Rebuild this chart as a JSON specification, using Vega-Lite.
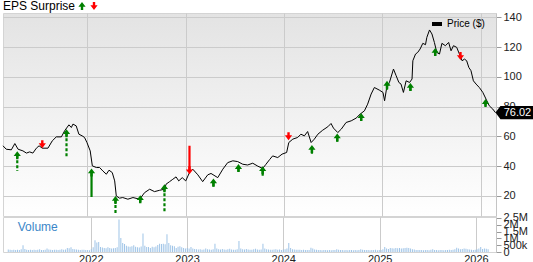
{
  "$schema": "https://vega.github.io/schema/vega-lite/v6.json",
  "padding": 0,
  "spacing": 1,
  "bounds": "flush",
  "background": "white",
  "config": {
    "font": "Liberation Sans",
    "axis": {"labelFont": "Liberation Sans", "labelFontSize": 11, "labelColor": "#222", "gridColor": "#cbcbcb", "gridWidth": 1, "domainColor": "#c4c4c4", "tickColor": "#999", "title": null, "labelOverlap": false}
  },
  "resolve": {
    "scale": {"x": "independent", "y": "independent", "color": "independent", "fill": "independent", "shape": "independent", "stroke": "independent", "strokeDash": "independent"},
    "legend": {"color": "independent", "fill": "independent", "shape": "independent"}
  },
  "datasets": {
    "price": [
      {"date": "2021-02-21", "price": 53.7}, {"date": "2021-03-05", "price": 51.4}, {"date": "2021-03-24", "price": 51.0}, {"date": "2021-04-06", "price": 55.2}, {"date": "2021-04-18", "price": 51.4}, {"date": "2021-05-06", "price": 50.3}, {"date": "2021-05-19", "price": 48.8}, {"date": "2021-05-31", "price": 49.6}, {"date": "2021-06-12", "price": 48.8}, {"date": "2021-06-25", "price": 52.1}, {"date": "2021-07-05", "price": 53.7}, {"date": "2021-07-17", "price": 52.1}, {"date": "2021-08-07", "price": 52.1}, {"date": "2021-08-23", "price": 57.0}, {"date": "2021-09-07", "price": 59.7}, {"date": "2021-09-26", "price": 59.7}, {"date": "2021-10-08", "price": 63.8}, {"date": "2021-10-24", "price": 67.8}, {"date": "2021-11-02", "price": 66.0}, {"date": "2021-11-08", "price": 68.3}, {"date": "2021-11-20", "price": 67.1}, {"date": "2021-11-30", "price": 61.5}, {"date": "2021-12-12", "price": 60.4}, {"date": "2021-12-21", "price": 59.3}, {"date": "2021-12-30", "price": 55.9},
      {"date": "2022-01-11", "price": 50.3}, {"date": "2022-01-19", "price": 40.2}, {"date": "2022-02-03", "price": 39.1}, {"date": "2022-02-15", "price": 39.1}, {"date": "2022-02-27", "price": 36.8}, {"date": "2022-03-12", "price": 34.6}, {"date": "2022-03-22", "price": 37.3}, {"date": "2022-04-03", "price": 35.7}, {"date": "2022-04-12", "price": 30.1}, {"date": "2022-04-18", "price": 20.0}, {"date": "2022-04-30", "price": 18.5}, {"date": "2022-05-12", "price": 18.9}, {"date": "2022-05-31", "price": 17.8}, {"date": "2022-06-19", "price": 18.9}, {"date": "2022-07-14", "price": 17.8}, {"date": "2022-08-01", "price": 22.2}, {"date": "2022-08-20", "price": 24.5}, {"date": "2022-09-07", "price": 22.9}, {"date": "2022-09-26", "price": 23.8}, {"date": "2022-10-14", "price": 24.5}, {"date": "2022-10-20", "price": 27.9}, {"date": "2022-11-02", "price": 29.6}, {"date": "2022-11-14", "price": 31.2}, {"date": "2022-11-26", "price": 32.8}, {"date": "2022-12-06", "price": 30.1}, {"date": "2022-12-19", "price": 32.3},
      {"date": "2023-01-01", "price": 30.1}, {"date": "2023-01-15", "price": 35.7}, {"date": "2023-01-27", "price": 38.0}, {"date": "2023-02-15", "price": 34.2}, {"date": "2023-03-05", "price": 29.6}, {"date": "2023-03-24", "price": 34.2}, {"date": "2023-04-05", "price": 35.1}, {"date": "2023-04-30", "price": 32.3}, {"date": "2023-05-19", "price": 38.0}, {"date": "2023-06-06", "price": 42.4}, {"date": "2023-06-25", "price": 43.6}, {"date": "2023-07-13", "price": 43.1}, {"date": "2023-08-01", "price": 41.3}, {"date": "2023-08-19", "price": 40.8}, {"date": "2023-09-07", "price": 42.0}, {"date": "2023-09-26", "price": 40.0}, {"date": "2023-10-14", "price": 38.5}, {"date": "2023-10-25", "price": 41.0}, {"date": "2023-11-09", "price": 44.5}, {"date": "2023-11-20", "price": 46.9}, {"date": "2023-12-09", "price": 45.8}, {"date": "2023-12-25", "price": 48.1},
      {"date": "2024-01-11", "price": 49.2}, {"date": "2024-01-19", "price": 55.9}, {"date": "2024-02-03", "price": 58.2}, {"date": "2024-02-21", "price": 59.3}, {"date": "2024-03-04", "price": 61.5}, {"date": "2024-03-17", "price": 60.4}, {"date": "2024-03-29", "price": 63.3}, {"date": "2024-04-11", "price": 55.9}, {"date": "2024-04-23", "price": 58.2}, {"date": "2024-05-06", "price": 61.5}, {"date": "2024-05-24", "price": 64.2}, {"date": "2024-06-12", "price": 66.5}, {"date": "2024-06-24", "price": 68.7}, {"date": "2024-07-03", "price": 65.6}, {"date": "2024-07-19", "price": 62.6}, {"date": "2024-08-01", "price": 64.9}, {"date": "2024-08-19", "price": 69.4}, {"date": "2024-09-07", "price": 70.5}, {"date": "2024-09-25", "price": 72.3}, {"date": "2024-10-10", "price": 75.0}, {"date": "2024-10-26", "price": 77.2}, {"date": "2024-11-07", "price": 81.7}, {"date": "2024-11-20", "price": 88.5}, {"date": "2024-12-02", "price": 92.9}, {"date": "2024-12-20", "price": 91.2},
      {"date": "2025-01-03", "price": 89.6}, {"date": "2025-01-09", "price": 84.0}, {"date": "2025-01-17", "price": 92.9}, {"date": "2025-01-27", "price": 96.3}, {"date": "2025-02-11", "price": 105.3}, {"date": "2025-02-21", "price": 100.8}, {"date": "2025-03-03", "price": 96.3}, {"date": "2025-03-11", "price": 95.2}, {"date": "2025-03-20", "price": 89.6}, {"date": "2025-03-30", "price": 97.4}, {"date": "2025-04-12", "price": 96.3}, {"date": "2025-04-21", "price": 98.6}, {"date": "2025-04-24", "price": 110.9}, {"date": "2025-05-04", "price": 115.4}, {"date": "2025-05-12", "price": 116.5}, {"date": "2025-05-21", "price": 118.8}, {"date": "2025-05-31", "price": 122.6}, {"date": "2025-06-10", "price": 121.7}, {"date": "2025-06-15", "price": 126.6}, {"date": "2025-06-25", "price": 131.6}, {"date": "2025-07-04", "price": 128.9}, {"date": "2025-07-13", "price": 123.2}, {"date": "2025-07-22", "price": 116.5}, {"date": "2025-08-01", "price": 115.4}, {"date": "2025-08-10", "price": 122.6}, {"date": "2025-08-23", "price": 121.0}, {"date": "2025-09-04", "price": 123.2}, {"date": "2025-09-13", "price": 117.6}, {"date": "2025-09-22", "price": 121.0}, {"date": "2025-10-04", "price": 119.9}, {"date": "2025-10-14", "price": 115.4}, {"date": "2025-10-24", "price": 110.9}, {"date": "2025-11-02", "price": 112.0}, {"date": "2025-11-10", "price": 110.9}, {"date": "2025-11-18", "price": 106.4}, {"date": "2025-11-26", "price": 104.2}, {"date": "2025-12-05", "price": 97.4}, {"date": "2025-12-15", "price": 95.2}, {"date": "2025-12-27", "price": 92.9},
      {"date": "2026-01-09", "price": 89.6}, {"date": "2026-01-21", "price": 85.1}, {"date": "2026-02-02", "price": 80.6}, {"date": "2026-02-15", "price": 78.4}, {"date": "2026-02-25", "price": 76.02}
    ],
    "arrows": [
      {"date": "2021-04-15", "dir": "up", "style": "dashed", "head": 47.3, "tail": 36.8},
      {"date": "2021-07-17", "dir": "down", "style": "solid", "head": 54.8, "tail": 54.8},
      {"date": "2021-10-15", "dir": "up", "style": "dashed", "head": 62.2, "tail": 46.3},
      {"date": "2022-01-16", "dir": "up", "style": "solid", "head": 35.7, "tail": 19.3},
      {"date": "2022-04-15", "dir": "up", "style": "dashed", "head": 17.3, "tail": 7.9},
      {"date": "2022-07-16", "dir": "up", "style": "dashed", "head": 17.8, "tail": 14.6},
      {"date": "2022-10-14", "dir": "up", "style": "dashed", "head": 25.2, "tail": 8.6},
      {"date": "2023-01-15", "dir": "down", "style": "solid", "head": 37.3, "tail": 53.7},
      {"date": "2023-04-14", "dir": "up", "style": "solid", "head": 29.0, "tail": 26.1},
      {"date": "2023-07-16", "dir": "up", "style": "solid", "head": 38.7, "tail": 36.2},
      {"date": "2023-10-14", "dir": "up", "style": "solid", "head": 37.3, "tail": 33.5},
      {"date": "2024-01-18", "dir": "down", "style": "solid", "head": 60.2, "tail": 60.2},
      {"date": "2024-04-14", "dir": "up", "style": "solid", "head": 51.6, "tail": 48.3},
      {"date": "2024-07-17", "dir": "up", "style": "solid", "head": 59.3, "tail": 56.4},
      {"date": "2024-10-14", "dir": "up", "style": "solid", "head": 73.0, "tail": 70.5},
      {"date": "2025-01-18", "dir": "up", "style": "solid", "head": 94.7, "tail": 91.4},
      {"date": "2025-04-15", "dir": "up", "style": "solid", "head": 93.2, "tail": 90.7},
      {"date": "2025-07-16", "dir": "up", "style": "solid", "head": 116.8, "tail": 114.3},
      {"date": "2025-10-18", "dir": "down", "style": "solid", "head": 114.1, "tail": 114.1},
      {"date": "2026-01-19", "dir": "up", "style": "solid", "head": 82.4, "tail": 80.6}
    ],
    "last": [{"date": "2026-02-25", "price": 76.02, "label": "76.02"}],
    "vol": [
      {"date": "2021-02-22", "v": 180000}, {"date": "2021-03-01", "v": 160000}, {"date": "2021-03-08", "v": 150000}, {"date": "2021-03-15", "v": 170000}, {"date": "2021-03-22", "v": 150000}, {"date": "2021-03-29", "v": 160000}, {"date": "2021-04-05", "v": 150000}, {"date": "2021-04-12", "v": 200000}, {"date": "2021-04-19", "v": 490000}, {"date": "2021-04-26", "v": 220000}, {"date": "2021-05-03", "v": 160000}, {"date": "2021-05-10", "v": 150000}, {"date": "2021-05-17", "v": 170000}, {"date": "2021-05-24", "v": 150000}, {"date": "2021-05-31", "v": 160000}, {"date": "2021-06-07", "v": 140000}, {"date": "2021-06-14", "v": 170000}, {"date": "2021-06-21", "v": 200000}, {"date": "2021-06-28", "v": 150000}, {"date": "2021-07-05", "v": 150000}, {"date": "2021-07-12", "v": 170000}, {"date": "2021-07-19", "v": 250000}, {"date": "2021-07-26", "v": 180000}, {"date": "2021-08-02", "v": 160000}, {"date": "2021-08-09", "v": 150000}, {"date": "2021-08-16", "v": 170000}, {"date": "2021-08-23", "v": 160000}, {"date": "2021-08-30", "v": 150000}, {"date": "2021-09-06", "v": 170000}, {"date": "2021-09-13", "v": 200000}, {"date": "2021-09-20", "v": 160000}, {"date": "2021-09-27", "v": 180000}, {"date": "2021-10-04", "v": 300000}, {"date": "2021-10-11", "v": 280000}, {"date": "2021-10-18", "v": 340000}, {"date": "2021-10-25", "v": 220000}, {"date": "2021-11-01", "v": 200000}, {"date": "2021-11-08", "v": 180000}, {"date": "2021-11-15", "v": 170000}, {"date": "2021-11-22", "v": 150000}, {"date": "2021-11-29", "v": 160000}, {"date": "2021-12-06", "v": 170000}, {"date": "2021-12-13", "v": 150000}, {"date": "2021-12-20", "v": 140000}, {"date": "2021-12-27", "v": 130000},
      {"date": "2022-01-03", "v": 200000}, {"date": "2022-01-10", "v": 350000}, {"date": "2022-01-17", "v": 860000}, {"date": "2022-01-24", "v": 690000}, {"date": "2022-01-31", "v": 740000}, {"date": "2022-02-07", "v": 370000}, {"date": "2022-02-14", "v": 330000}, {"date": "2022-02-21", "v": 300000}, {"date": "2022-02-28", "v": 280000}, {"date": "2022-03-07", "v": 350000}, {"date": "2022-03-14", "v": 300000}, {"date": "2022-03-21", "v": 260000}, {"date": "2022-03-28", "v": 280000}, {"date": "2022-04-04", "v": 300000}, {"date": "2022-04-11", "v": 350000}, {"date": "2022-04-18", "v": 2380000}, {"date": "2022-04-25", "v": 1030000}, {"date": "2022-05-02", "v": 660000}, {"date": "2022-05-09", "v": 590000}, {"date": "2022-05-16", "v": 450000}, {"date": "2022-05-23", "v": 400000}, {"date": "2022-05-30", "v": 380000}, {"date": "2022-06-06", "v": 420000}, {"date": "2022-06-13", "v": 490000}, {"date": "2022-06-20", "v": 380000}, {"date": "2022-06-27", "v": 350000}, {"date": "2022-07-04", "v": 330000}, {"date": "2022-07-11", "v": 400000}, {"date": "2022-07-18", "v": 1350000}, {"date": "2022-07-25", "v": 450000}, {"date": "2022-08-01", "v": 370000}, {"date": "2022-08-08", "v": 360000}, {"date": "2022-08-15", "v": 300000}, {"date": "2022-08-22", "v": 380000}, {"date": "2022-08-29", "v": 340000}, {"date": "2022-09-05", "v": 400000}, {"date": "2022-09-12", "v": 520000}, {"date": "2022-09-19", "v": 610000}, {"date": "2022-09-26", "v": 580000}, {"date": "2022-10-03", "v": 610000}, {"date": "2022-10-10", "v": 560000}, {"date": "2022-10-17", "v": 1300000}, {"date": "2022-10-24", "v": 660000}, {"date": "2022-10-31", "v": 500000}, {"date": "2022-11-07", "v": 450000}, {"date": "2022-11-14", "v": 420000}, {"date": "2022-11-21", "v": 300000}, {"date": "2022-11-28", "v": 380000}, {"date": "2022-12-05", "v": 420000}, {"date": "2022-12-12", "v": 350000}, {"date": "2022-12-19", "v": 300000}, {"date": "2022-12-26", "v": 250000},
      {"date": "2023-01-02", "v": 300000}, {"date": "2023-01-09", "v": 250000}, {"date": "2023-01-16", "v": 370000}, {"date": "2023-01-23", "v": 260000}, {"date": "2023-01-30", "v": 220000}, {"date": "2023-02-06", "v": 200000}, {"date": "2023-02-13", "v": 180000}, {"date": "2023-02-20", "v": 200000}, {"date": "2023-02-27", "v": 170000}, {"date": "2023-03-06", "v": 190000}, {"date": "2023-03-13", "v": 250000}, {"date": "2023-03-20", "v": 200000}, {"date": "2023-03-27", "v": 180000}, {"date": "2023-04-03", "v": 170000}, {"date": "2023-04-10", "v": 200000}, {"date": "2023-04-17", "v": 610000}, {"date": "2023-04-24", "v": 260000}, {"date": "2023-05-01", "v": 200000}, {"date": "2023-05-08", "v": 180000}, {"date": "2023-05-15", "v": 220000}, {"date": "2023-05-22", "v": 180000}, {"date": "2023-05-29", "v": 160000}, {"date": "2023-06-05", "v": 200000}, {"date": "2023-06-12", "v": 240000}, {"date": "2023-06-19", "v": 190000}, {"date": "2023-06-26", "v": 170000}, {"date": "2023-07-03", "v": 160000}, {"date": "2023-07-10", "v": 200000}, {"date": "2023-07-17", "v": 800000}, {"date": "2023-07-24", "v": 260000}, {"date": "2023-07-31", "v": 200000}, {"date": "2023-08-07", "v": 180000}, {"date": "2023-08-14", "v": 220000}, {"date": "2023-08-21", "v": 190000}, {"date": "2023-08-28", "v": 170000}, {"date": "2023-09-04", "v": 160000}, {"date": "2023-09-11", "v": 200000}, {"date": "2023-09-18", "v": 240000}, {"date": "2023-09-25", "v": 180000}, {"date": "2023-10-02", "v": 170000}, {"date": "2023-10-09", "v": 190000}, {"date": "2023-10-16", "v": 610000}, {"date": "2023-10-23", "v": 260000}, {"date": "2023-10-30", "v": 200000}, {"date": "2023-11-06", "v": 180000}, {"date": "2023-11-13", "v": 170000}, {"date": "2023-11-20", "v": 160000}, {"date": "2023-11-27", "v": 180000}, {"date": "2023-12-04", "v": 200000}, {"date": "2023-12-11", "v": 170000}, {"date": "2023-12-18", "v": 180000}, {"date": "2023-12-25", "v": 150000},
      {"date": "2024-01-01", "v": 180000}, {"date": "2024-01-08", "v": 200000}, {"date": "2024-01-15", "v": 250000}, {"date": "2024-01-22", "v": 660000}, {"date": "2024-01-29", "v": 300000}, {"date": "2024-02-05", "v": 200000}, {"date": "2024-02-12", "v": 180000}, {"date": "2024-02-19", "v": 170000}, {"date": "2024-02-26", "v": 160000}, {"date": "2024-03-04", "v": 170000}, {"date": "2024-03-11", "v": 150000}, {"date": "2024-03-18", "v": 160000}, {"date": "2024-03-25", "v": 150000}, {"date": "2024-04-01", "v": 140000}, {"date": "2024-04-08", "v": 150000}, {"date": "2024-04-15", "v": 320000}, {"date": "2024-04-22", "v": 250000}, {"date": "2024-04-29", "v": 180000}, {"date": "2024-05-06", "v": 160000}, {"date": "2024-05-13", "v": 150000}, {"date": "2024-05-20", "v": 140000}, {"date": "2024-05-27", "v": 130000}, {"date": "2024-06-03", "v": 140000}, {"date": "2024-06-10", "v": 150000}, {"date": "2024-06-17", "v": 130000}, {"date": "2024-06-24", "v": 140000}, {"date": "2024-07-01", "v": 130000}, {"date": "2024-07-08", "v": 150000}, {"date": "2024-07-15", "v": 140000}, {"date": "2024-07-22", "v": 200000}, {"date": "2024-07-29", "v": 160000}, {"date": "2024-08-05", "v": 150000}, {"date": "2024-08-12", "v": 140000}, {"date": "2024-08-19", "v": 130000}, {"date": "2024-08-26", "v": 140000}, {"date": "2024-09-02", "v": 130000}, {"date": "2024-09-09", "v": 140000}, {"date": "2024-09-16", "v": 150000}, {"date": "2024-09-23", "v": 130000}, {"date": "2024-09-30", "v": 140000}, {"date": "2024-10-07", "v": 130000}, {"date": "2024-10-14", "v": 150000}, {"date": "2024-10-21", "v": 200000}, {"date": "2024-10-28", "v": 160000}, {"date": "2024-11-04", "v": 150000}, {"date": "2024-11-11", "v": 140000}, {"date": "2024-11-18", "v": 150000}, {"date": "2024-11-25", "v": 130000}, {"date": "2024-12-02", "v": 140000}, {"date": "2024-12-09", "v": 150000}, {"date": "2024-12-16", "v": 160000}, {"date": "2024-12-23", "v": 130000}, {"date": "2024-12-30", "v": 140000},
      {"date": "2025-01-06", "v": 150000}, {"date": "2025-01-13", "v": 200000}, {"date": "2025-01-20", "v": 370000}, {"date": "2025-01-27", "v": 250000}, {"date": "2025-02-03", "v": 220000}, {"date": "2025-02-10", "v": 300000}, {"date": "2025-02-17", "v": 280000}, {"date": "2025-02-24", "v": 250000}, {"date": "2025-03-03", "v": 300000}, {"date": "2025-03-10", "v": 280000}, {"date": "2025-03-17", "v": 300000}, {"date": "2025-03-24", "v": 250000}, {"date": "2025-03-31", "v": 280000}, {"date": "2025-04-07", "v": 300000}, {"date": "2025-04-14", "v": 320000}, {"date": "2025-04-21", "v": 300000}, {"date": "2025-04-28", "v": 250000}, {"date": "2025-05-05", "v": 200000}, {"date": "2025-05-12", "v": 180000}, {"date": "2025-05-19", "v": 150000}, {"date": "2025-05-26", "v": 140000}, {"date": "2025-06-02", "v": 150000}, {"date": "2025-06-09", "v": 140000}, {"date": "2025-06-16", "v": 130000}, {"date": "2025-06-23", "v": 150000}, {"date": "2025-06-30", "v": 140000}, {"date": "2025-07-07", "v": 130000}, {"date": "2025-07-14", "v": 160000}, {"date": "2025-07-21", "v": 200000}, {"date": "2025-07-28", "v": 150000}, {"date": "2025-08-04", "v": 140000}, {"date": "2025-08-11", "v": 130000}, {"date": "2025-08-18", "v": 150000}, {"date": "2025-08-25", "v": 140000}, {"date": "2025-09-01", "v": 130000}, {"date": "2025-09-08", "v": 150000}, {"date": "2025-09-15", "v": 140000}, {"date": "2025-09-22", "v": 160000}, {"date": "2025-09-29", "v": 150000}, {"date": "2025-10-06", "v": 170000}, {"date": "2025-10-13", "v": 200000}, {"date": "2025-10-20", "v": 320000}, {"date": "2025-10-27", "v": 260000}, {"date": "2025-11-03", "v": 200000}, {"date": "2025-11-10", "v": 220000}, {"date": "2025-11-17", "v": 250000}, {"date": "2025-11-24", "v": 230000}, {"date": "2025-12-01", "v": 200000}, {"date": "2025-12-08", "v": 180000}, {"date": "2025-12-15", "v": 170000}, {"date": "2025-12-22", "v": 150000}, {"date": "2025-12-29", "v": 160000},
      {"date": "2026-01-05", "v": 200000}, {"date": "2026-01-12", "v": 250000}, {"date": "2026-01-19", "v": 370000}, {"date": "2026-01-26", "v": 220000}, {"date": "2026-02-02", "v": 250000}, {"date": "2026-02-09", "v": 230000}, {"date": "2026-02-16", "v": 200000}
    ]
  },
  "vconcat": [
    {
      "width": 493,
      "height": 203,
      "view": {"stroke": "#d4d4d4", "fill": {"gradient": "linear", "x1": 0, "y1": 0, "x2": 0, "y2": 1, "stops": [{"offset": 0, "color": "#e3e3e3"}, {"offset": 1, "color": "#ffffff"}]}},
      "layer": [
        {
          "data": {"name": "price"},
          "mark": {"type": "line", "strokeWidth": 1},
          "encoding": {
            "x": {"field": "date", "type": "temporal", "scale": {"type": "utc", "domain": [{"year": 2021, "month": 2, "date": 21, "utc": true}, {"year": 2026, "month": 2, "date": 27, "utc": true}]}, "axis": {"grid": true, "labels": false, "ticks": false, "domain": false, "tickCount": {"interval": "year", "step": 1}, "title": null}},
            "y": {"field": "price", "type": "quantitative", "scale": {"domain": [6.5, 143], "nice": false, "zero": false}, "axis": {"orient": "right", "values": [20, 40, 60, 80, 100, 120, 140], "tickCount": 20, "grid": true, "tickSize": 5, "labelPadding": 2, "domain": true, "labelOverlap": false, "title": null}},
            "color": {"datum": "Price ($)", "scale": {"range": ["#000000"]}, "legend": {"orient": "none", "legendX": 429, "legendY": 6, "title": null, "symbolType": "M-1,-0.4L1,-0.4L1,0.4L-1,0.4Z", "symbolSize": 100, "symbolStrokeWidth": 0, "symbolFillColor": "#000000", "labelFontSize": 10, "labelColor": "#000000", "labelFont": "Liberation Sans", "labelOffset": 5, "padding": 0, "encode": {"symbols": {"update": {"fill": {"value": "#000000"}, "stroke": {"value": "#000000"}, "strokeWidth": {"value": 0}}}}}}
          }
        },
        {
          "data": {"name": "arrows"},
          "mark": {"type": "rule", "strokeWidth": 2.2},
          "encoding": {
            "x": {"field": "date", "type": "temporal"},
            "y": {"field": "head", "type": "quantitative"},
            "y2": {"field": "tail"},
            "stroke": {"field": "dir", "type": "nominal", "scale": {"domain": ["down", "up"], "range": ["#ff0000", "#008000"]}, "legend": null},
            "strokeDash": {"field": "style", "type": "nominal", "scale": {"domain": ["dashed", "solid"], "range": [[3, 2], [1, 0]]}, "legend": null}
          }
        },
        {
          "data": {"name": "arrows"},
          "mark": {"type": "point", "filled": true, "size": 64, "opacity": 1, "strokeWidth": 0},
          "encoding": {
            "x": {"field": "date", "type": "temporal"},
            "y": {"field": "head", "type": "quantitative"},
            "fill": {"field": "dir", "type": "nominal", "scale": {"domain": ["up", "down"], "range": ["#008000", "#ff0000"]}, "legend": {"orient": "none", "legendX": 0, "legendY": -12, "title": "EPS Surprise", "titleOrient": "left", "titleFontSize": 12, "titleFontWeight": "normal", "titleColor": "#000000", "titleFont": "Liberation Sans", "titlePadding": 1, "direction": "horizontal", "labelExpr": "''", "labelOffset": 0, "columnPadding": 2, "symbolSize": 64, "symbolStrokeWidth": 0, "symbolOpacity": 1, "padding": 0, "encode": {"symbols": {"update": {"shape": {"signal": "datum.value === 'up' ? 'M0,-1L0.9,0.2L0.3,0.2L0.3,1L-0.3,1L-0.3,0.2L-0.9,0.2Z' : 'M0,1L0.9,-0.2L0.3,-0.2L0.3,-1L-0.3,-1L-0.3,-0.2L-0.9,-0.2Z'"}}}}}},
            "shape": {"field": "dir", "type": "nominal", "scale": {"domain": ["down", "up"], "range": ["M0,1L0.9,-0.2L0.3,-0.2L0.3,-1L-0.3,-1L-0.3,-0.2L-0.9,-0.2Z", "M0,-1L0.9,0.2L0.3,0.2L0.3,1L-0.3,1L-0.3,0.2L-0.9,0.2Z"]}, "legend": null}
          }
        },
        {
          "data": {"name": "last"},
          "mark": {"type": "point", "shape": "M-1,0L-0.75,-0.33L1,-0.33L1,0.33L-0.75,0.33Z", "size": 1600, "filled": true, "color": "#000000", "opacity": 1, "strokeWidth": 0, "xOffset": 20, "clip": false},
          "encoding": {
            "x": {"field": "date", "type": "temporal"},
            "y": {"field": "price", "type": "quantitative"}
          }
        },
        {
          "data": {"name": "last"},
          "mark": {"type": "text", "color": "#ffffff", "fontSize": 11, "font": "Liberation Sans", "align": "center", "baseline": "middle", "xOffset": 22, "clip": false},
          "encoding": {
            "x": {"field": "date", "type": "temporal"},
            "y": {"field": "price", "type": "quantitative"},
            "text": {"field": "label"}
          }
        }
      ]
    },
    {
      "width": 493,
      "height": 35,
      "view": {"stroke": "#d4d4d4", "fill": "#ffffff"},
      "layer": [
        {
          "data": {"name": "vol"},
          "mark": {"type": "bar", "width": 1, "color": "#9fc4e7"},
          "encoding": {
            "x": {"field": "date", "type": "temporal", "scale": {"type": "utc", "domain": [{"year": 2021, "month": 2, "date": 21, "utc": true}, {"year": 2026, "month": 2, "date": 27, "utc": true}]}, "axis": {"grid": true, "ticks": false, "domain": false, "labelPadding": 1, "format": "%Y", "tickCount": {"interval": "year", "step": 1}, "labelFlush": false, "title": null}},
            "y": {"field": "v", "type": "quantitative", "scale": {"domain": [0, 2570000], "nice": false}, "axis": {"orient": "right", "values": [0, 500000, 1000000, 1500000, 2000000, 2500000], "tickCount": 20, "labelExpr": "datum.value == 0 ? '0' : datum.value < 1000000 ? (datum.value / 1000) + 'k' : (datum.value / 1000000) + 'M'", "labelOverlap": false, "tickSize": 5, "grid": false, "labelPadding": 2, "title": null}}
          }
        },
        {
          "data": {"values": [{"t": "Volume"}]},
          "mark": {"type": "text", "align": "left", "baseline": "alphabetic", "fontSize": 12, "font": "Liberation Sans", "color": "#3a86c8"},
          "encoding": {
            "text": {"field": "t"},
            "x": {"datum": {"year": 2021, "month": 3, "date": 30, "utc": true}, "type": "temporal"},
            "y": {"datum": 1510000, "type": "quantitative"}
          }
        }
      ]
    }
  ]
}
